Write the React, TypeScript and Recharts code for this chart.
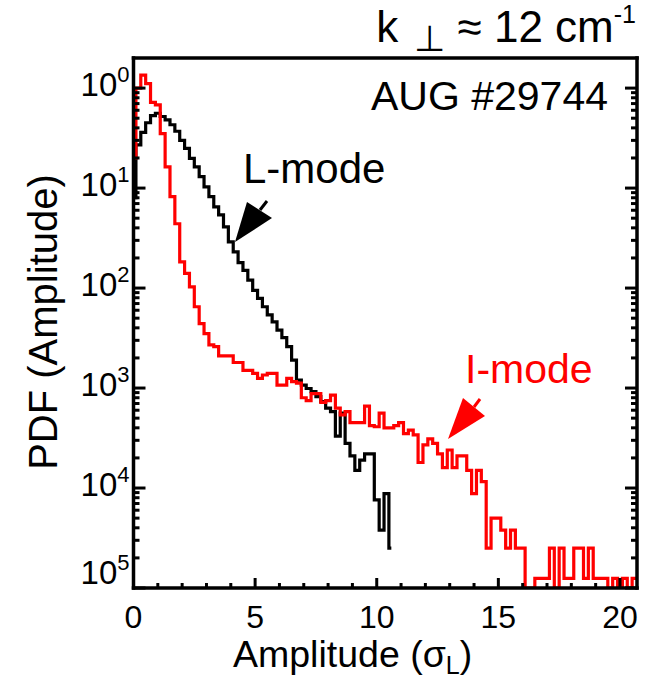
import { LineChart, Line, XAxis, YAxis } from 'recharts';

// histogram bin spacing (sigma_L units); bin centres are index * BIN_WIDTH
const BIN_WIDTH = 0.2;

// L-mode PDF
const lModePdf = [
  0.08, 0.27, 0.36, 0.45, 0.53, 0.56, 0.52, 0.48, 0.43, 0.37,
  0.3, 0.25, 0.198, 0.163, 0.13, 0.103, 0.082, 0.065, 0.054, 0.041,
  0.029, 0.023, 0.018, 0.015, 0.012, 0.0095, 0.0079, 0.0065, 0.0054, 0.0046,
  0.0038, 0.0032, 0.0026, 0.0019, 0.0012, 0.00107, 0.00099, 0.00092, 0.00082, 0.00073,
  0.00063, 0.00058, 0.00033, 0.00056, 0.00028, 0.00021, 0.00015, 0.00019, 0.00022, 0.00022,
  7.6e-5, 3.8e-5, 8.8e-5, 2.5e-5,
];

// I-mode PDF
const iModePdf = [
  0.2, 1.0, 1.35, 1.11, 0.72, 0.68, 0.35, 0.163, 0.082, 0.044,
  0.0183, 0.014, 0.0103, 0.0065, 0.0044, 0.0035, 0.0027, 0.0026, 0.0021, 0.0021,
  0.0021, 0.0018, 0.0018, 0.0015, 0.0015, 0.0014, 0.00125, 0.00135, 0.0014, 0.0014,
  0.00107, 0.00107, 0.00125, 0.00116, 0.00112, 0.0008, 0.00075, 0.00088, 0.00088, 0.00072,
  0.00075, 0.00085, 0.00063, 0.00054, 0.00058, 0.00045, 0.00045, 0.00045, 0.00066, 0.00042,
  0.00041, 0.00056, 0.0004, 0.0004, 0.00042, 0.00045, 0.00035, 0.00038, 0.00034, 0.00018,
  0.00027, 0.00031, 0.00028, 0.00022, 0.00016, 0.00024, 0.00016, 0.00021, 0.00021, 0.00015,
  8.8e-5, 0.00015, 0.000116, 2.5e-5, 5e-5, 5e-5, 3.8e-5, 2.5e-5, 3.8e-5, 2.5e-5,
  2.5e-5, 1e-5, 1e-5, 1.25e-5, 1.25e-5, 1.25e-5, 2.5e-5, 1e-5, 2.5e-5, 1.25e-5,
  1.25e-5, 2.5e-5, 2.5e-5, 1.25e-5, 2.5e-5, 1.25e-5, 1.25e-5, 1.25e-5, 1e-5, 1.25e-5,
  1e-5, 1.25e-5, 1e-5, 1.25e-5, 1.25e-5,
];

const xMajorTicks = [0, 5, 10, 15, 20];
const xMinorTicks = [1, 2, 3, 4, 6, 7, 8, 9, 11, 12, 13, 14, 16, 17, 18, 19];
const yDecades = [1e-5, 1e-4, 1e-3, 1e-2, 1e-1, 1];
// exponents as printed on the original axis
const yExponentLabels = ['5', '4', '3', '2', '1', '0'];
const yMantissas = [1, 2, 3, 4, 5, 6, 7, 8, 9];

const X_DOMAIN: [number, number] = [0, 20.7];
const Y_DOMAIN: [number, number] = [1e-5, 2];

const FONT = '"Liberation Sans", Arial, Helvetica, sans-serif';

const lData = lModePdf.map((v, i) => ({ amp: i * BIN_WIDTH, pdf: v }));
const iData = iModePdf.map((v, i) => ({ amp: i * BIN_WIDTH, pdf: v }));

const xTicks = [...xMajorTicks, ...xMinorTicks].sort((a, b) => a - b);
const yTicks = yDecades.flatMap((d) => yMantissas.map((m) => m * d)).filter((v) => v <= 1.0001);

const decadeIndex = (v: number) => {
  const lg = Math.log10(v);
  const r = Math.round(lg);
  if (Math.abs(lg - r) > 1e-6) return -1;
  return yDecades.findIndex((d) => Math.abs(Math.log10(d) - r) < 1e-6);
};

function BottomTick(props: any) {
  const { x, y, payload } = props;
  const major = xMajorTicks.includes(payload.value);
  return (
    <g>
      <line x1={x} x2={x} y1={y} y2={y - (major ? 10 : 5)} stroke="#000" strokeWidth={3} />
      {major && (
        <text x={x} y={y + 40} textAnchor="middle" fontSize={32} fontFamily={FONT} fill="#000">
          {payload.value}
        </text>
      )}
    </g>
  );
}

function TopTick(props: any) {
  const { x, y, payload } = props;
  const major = xMajorTicks.includes(payload.value);
  return <line x1={x} x2={x} y1={y} y2={y + (major ? 10 : 5)} stroke="#000" strokeWidth={3} />;
}

function LeftTick(props: any) {
  const { x, y, payload } = props;
  const idx = decadeIndex(payload.value);
  const major = idx >= 0;
  return (
    <g>
      <line x1={x} x2={x + (major ? 12 : 6)} y1={y} y2={y} stroke="#000" strokeWidth={3} />
      {major && (
        <text x={x - 4} y={idx === 0 ? y - 4 : y + 8} textAnchor="end" fontSize={33} fontFamily={FONT} fill="#000">
          10
          <tspan fontSize={22} dy={-14}>
            {yExponentLabels[idx]}
          </tspan>
        </text>
      )}
    </g>
  );
}

function RightTick(props: any) {
  const { x, y, payload } = props;
  const major = decadeIndex(payload.value) >= 0;
  return <line x1={x} x2={x - (major ? 12 : 6)} y1={y} y2={y} stroke="#000" strokeWidth={3} />;
}

const axisLine = { stroke: '#000', strokeWidth: 3.5, strokeLinecap: 'square' as const };

export default function App() {
  return (
    <div style={{ position: 'absolute', left: 0, top: 0, width: 656, height: 679, background: '#fff' }}>
      <LineChart width={656} height={679} margin={{ top: 48, right: 9, bottom: 51, left: 73.5 }}>
        <XAxis
          dataKey="amp"
          type="number"
          domain={X_DOMAIN}
          allowDataOverflow
          ticks={xTicks}
          interval={0}
          height={40}
          tickSize={0}
          tickMargin={0}
          tickLine={false}
          axisLine={axisLine}
          tick={<BottomTick />}
        />
        <XAxis
          xAxisId="top"
          orientation="top"
          type="number"
          domain={X_DOMAIN}
          allowDataOverflow
          ticks={xTicks}
          interval={0}
          height={10}
          tickSize={0}
          tickMargin={0}
          tickLine={false}
          axisLine={axisLine}
          tick={<TopTick />}
        />
        <YAxis
          type="number"
          scale="log"
          domain={Y_DOMAIN}
          allowDataOverflow
          ticks={yTicks}
          interval={0}
          width={60}
          tickSize={0}
          tickMargin={0}
          tickLine={false}
          axisLine={axisLine}
          tick={<LeftTick />}
        />
        <YAxis
          yAxisId="right"
          orientation="right"
          type="number"
          scale="log"
          domain={Y_DOMAIN}
          allowDataOverflow
          ticks={yTicks}
          interval={0}
          width={10}
          tickSize={0}
          tickMargin={0}
          tickLine={false}
          axisLine={axisLine}
          tick={<RightTick />}
        />
        <Line
          data={lData}
          dataKey="pdf"
          type="step"
          stroke="#000000"
          strokeWidth={3.2}
          dot={false}
          isAnimationActive={false}
        />
        <Line
          data={iData}
          dataKey="pdf"
          type="step"
          stroke="#ff0000"
          strokeWidth={3.2}
          dot={false}
          isAnimationActive={false}
        />
      </LineChart>
      <svg
        width={656}
        height={679}
        style={{ position: 'absolute', left: 0, top: 0, pointerEvents: 'none' }}
        fontFamily={FONT}
      >
        <text x={636} y={42} textAnchor="end" fontSize={44} fill="#000">
          k
          <tspan fontSize={36} dy={9} dx={6}>
            {' ⊥'}
          </tspan>
          <tspan dy={-9}>{' ≈ 12 cm'}</tspan>
          <tspan fontSize={25} dy={-19}>
            -1
          </tspan>
        </text>
        <text x={608} y={110} textAnchor="end" fontSize={41} fill="#000">
          AUG #29744
        </text>
        <text x={243} y={183} fontSize={42} fill="#000">
          L-mode
        </text>
        <polygon points="235,242 247,202 272,218" fill="#000" />
        <line x1={260} y1={210} x2={267} y2={201} stroke="#000" strokeWidth={3} />
        <text x={465} y={383} fontSize={41} fill="#ff0000">
          I-mode
        </text>
        <polygon points="448,439 463,398 485,416" fill="#ff0000" />
        <line x1={474} y1={407} x2={480} y2={399} stroke="#ff0000" strokeWidth={3} />
        <text x={233} y={667} fontSize={37.5} fill="#000">
          Amplitude (σ
          <tspan fontSize={25} dy={7}>
            L
          </tspan>
          <tspan dy={-7}>)</tspan>
        </text>
        <text
          x={57}
          y={322}
          textAnchor="middle"
          fontSize={40}
          fill="#000"
          transform="rotate(-90 57 322)"
        >
          PDF (Amplitude)
        </text>
      </svg>
    </div>
  );
}
